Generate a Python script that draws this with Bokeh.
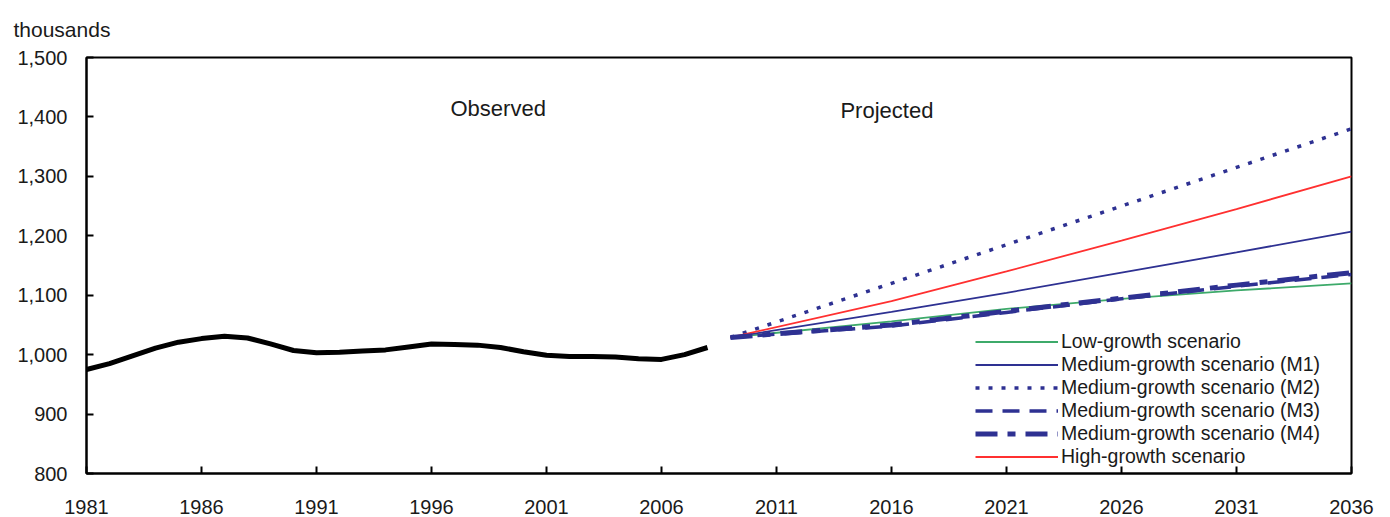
from bokeh.plotting import figure
from bokeh.models import Legend, LegendItem, FixedTicker, NumeralTickFormatter, Label
from bokeh.embed import file_html
from bokeh.resources import INLINE

# ---- data ----
obs_years = list(range(1981, 2009))
obs_values = [975, 985, 998, 1011, 1021, 1027, 1031, 1028, 1018, 1007,
              1003, 1004, 1006, 1008, 1013, 1018, 1017, 1016, 1012, 1005,
              999, 997, 997, 996, 993, 992, 1000, 1012]

proj_years = [2009, 2016, 2021, 2026, 2031, 2036]
low_growth = [1029, 1056, 1077, 1094, 1108, 1120]
medium_m1 = [1029, 1072, 1104, 1138, 1172, 1207]
medium_m2 = [1029, 1120, 1185, 1250, 1315, 1380]
medium_m3 = [1029, 1048, 1071, 1094, 1115, 1135]
medium_m4 = [1029, 1050, 1073, 1095, 1117, 1138]
high_growth = [1029, 1090, 1140, 1192, 1245, 1300]

x_ticks = [1981, 1986, 1991, 1996, 2001, 2006, 2011, 2016, 2021, 2026, 2031, 2036]
y_ticks = [800, 900, 1000, 1100, 1200, 1300, 1400, 1500]

series_labels = ["Low-growth scenario", "Medium-growth scenario (M1)",
                 "Medium-growth scenario (M2)", "Medium-growth scenario (M3)",
                 "Medium-growth scenario (M4)", "High-growth scenario"]

unit_text = "thousands"
observed_text = "Observed"
projected_text = "Projected"
observed_pos = (1998.9, 1414)
projected_pos = (2015.8, 1411)

FONT = "Liberation Sans"
TXT = "#1a1a1a"
NAVY = "#2e3192"
GREEN = "#3daa6a"
RED = "#ff3030"

p = figure(width=1382, height=517, x_range=(1981, 2036), y_range=(800, 1500),
           output_backend="svg", toolbar_location=None,
           min_border_left=86, min_border_right=31, min_border_top=57, min_border_bottom=44)

p.xgrid.visible = False
p.ygrid.visible = False
p.outline_line_color = "black"
p.outline_line_width = 2
p.outline_line_alpha = 1

p.xaxis.ticker = FixedTicker(ticks=x_ticks)
p.yaxis.ticker = FixedTicker(ticks=y_ticks)
p.yaxis.formatter = NumeralTickFormatter(format="0,0")
for ax in (p.xaxis, p.yaxis):
    ax.axis_line_color = "black"
    ax.axis_line_width = 2
    ax.major_tick_line_color = "black"
    ax.major_tick_line_width = 2
    ax.major_tick_in = 7
    ax.major_tick_out = 0
    ax.minor_tick_line_color = None
    ax.major_label_text_font = FONT
    ax.major_label_text_font_size = "20px"
    ax.major_label_text_color = TXT
p.xaxis.major_label_standoff = 26
p.yaxis.major_label_standoff = 19

p.title.text = unit_text
p.title.align = "left"
p.title.offset = -73
p.title.standoff = 30
p.title.vertical_align = "top"
p.title.text_font = FONT
p.title.text_font_size = "21px"
p.title.text_font_style = "normal"
p.title.text_color = TXT

# observed
p.line(obs_years, obs_values, line_color="black", line_width=5)

r_low = p.line(proj_years, low_growth, line_color=GREEN, line_width=1.8)
r_m1 = p.line(proj_years, medium_m1, line_color=NAVY, line_width=1.8)
r_m2 = p.line(proj_years, medium_m2, line_color=NAVY, line_width=3.5, line_dash="4 9")
r_high = p.line(proj_years, high_growth, line_color=RED, line_width=1.8)
r_m3 = p.line(proj_years, medium_m3, line_color=NAVY, line_width=3.5, line_dash="17 10")
r_m4 = p.line(proj_years, medium_m4, line_color=NAVY, line_width=5, line_dash="22 10 8 10")

for txt, (lx, ly) in ((observed_text, observed_pos), (projected_text, projected_pos)):
    p.add_layout(Label(x=lx, y=ly, text=txt, text_align="center", text_baseline="middle",
                       text_font=FONT, text_font_size="22px", text_color=TXT))

renderers = [r_low, r_m1, r_m2, r_m3, r_m4, r_high]
legend = Legend(items=[LegendItem(label=l, renderers=[r]) for l, r in zip(series_labels, renderers)],
                location=(889, 5), padding=0, margin=0, spacing=0,
                glyph_width=83, glyph_height=23, label_height=23, label_standoff=3,
                border_line_color=None, background_fill_alpha=0,
                label_text_font=FONT, label_text_font_size="19.5px", label_text_color=TXT)
p.add_layout(legend)

open("out.html", "w").write(file_html(p, INLINE))
